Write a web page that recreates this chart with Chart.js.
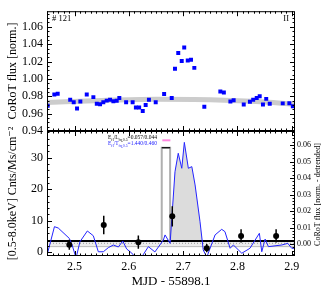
<!DOCTYPE html>
<html><head><meta charset="utf-8">
<script src="https://cdn.jsdelivr.net/npm/chart.js@4"></script>
<style>
html,body{margin:0;padding:0;background:#fff;}
#wrap{position:relative;width:327px;height:291px;}
canvas{position:absolute;left:0;top:0;}
</style></head><body>
<div id="wrap">
<canvas id="top" width="327" height="291" style="width:327px;height:291px"></canvas>
<canvas id="bot" width="327" height="291" style="width:327px;height:291px"></canvas>
</div>
<script>
// ---------- data ----------
const xRange = [2.4493, 2.906];
const xTicks = [2.5, 2.6, 2.7, 2.8, 2.9];

// top panel: CoRoT normalised flux
const topX = [2.4506,2.4628,2.469,2.492,2.4985,2.5046,2.5107,2.5225,2.5347,2.541,2.547,2.553,2.5593,2.5654,2.5715,2.5777,2.5825,2.595,2.607,2.613,2.619,2.6256,2.631,2.637,2.6495,2.665,2.679,2.685,2.691,2.6974,2.702,2.7085,2.7145,2.7206,2.739,2.7685,2.775,2.787,2.793,2.8116,2.823,2.829,2.8355,2.841,2.847,2.853,2.8595,2.8834,2.8956,2.902];
const topFlux = [0.969,0.982,0.983,0.976,0.973,0.966,0.974,0.982,0.979,0.9714,0.9707,0.973,0.975,0.976,0.9743,0.9748,0.978,0.973,0.973,0.967,0.967,0.963,0.970,0.976,0.973,0.9826,0.978,1.0116,1.0298,1.0206,1.0362,1.0212,1.022,1.0127,0.968,0.9855,0.9844,0.974,0.9755,0.9706,0.9737,0.976,0.978,0.980,0.9706,0.977,0.9714,0.9718,0.972,0.9684];
const trendX = [2.4493, 2.55, 2.65, 2.75, 2.85, 2.906];
const trendFlux = [0.9728, 0.9752, 0.9765, 0.976, 0.9735, 0.9708];
const topYRange = [0.94, 1.078];
const topYTicks = [0.94, 0.96, 0.98, 1.00, 1.02, 1.04, 1.06];

// bottom panel: X-ray rate (left axis)
const xrayX = [2.4904, 2.5538, 2.6175, 2.680, 2.7435, 2.8067, 2.8712];
const xrayRate = [2.4, 8.65, 3.2, 11.4, 1.3, 5.2, 5.2];
const xrayErr = [1.6, 2.9, 2.1, 3.2, 1.3, 2.1, 2.1];
const quiescentRate = 3.6;
const bgLevel = 2.85;
const bgLow = 1.8;
const flareBinX = [2.6606, 2.6606, 2.676, 2.676];
const flareBinRate = [3.6, 33.15, 33.15, 3.6];
const flareMarkX = [2.6617, 2.6765];
const flareMarkRate = 35.5;
const botYRange = [-1.17, 38.45];
const botYTicks = [0, 10, 20, 30];

// bottom panel: detrended CoRoT flux (right axis)
const detX = [2.4499,2.463,2.470,2.4904,2.4955,2.5028,2.510,2.5236,2.5346,2.5438,2.553,2.5623,2.5715,2.5807,2.5888,2.596,2.6054,2.613,2.6225,2.636,2.648,2.6636,2.6667,2.676,2.685,2.691,2.6975,2.7022,2.7096,2.716,2.722,2.7311,2.737,2.7435,2.7588,2.771,2.777,2.7865,2.7925,2.808,2.823,2.8404,2.8448,2.851,2.857,2.8817,2.8927,2.9,2.906];
const detFlux = [-0.0061,0.0105,0.0097,0.0034,-0.0005,-0.0085,0.0014,0.0079,0.005,-0.0047,-0.0047,-0.0022,-0.0006,-0.0018,0.0018,-0.003,-0.0055,-0.0085,-0.0085,-0.0016,-0.0048,0.0024,0.0055,0.0004,0.0438,0.055,0.0459,0.0616,0.0459,0.0469,0.0358,0.0135,-0.0036,-0.008,0.0055,0.0089,0.0075,-0.0026,-0.0006,-0.0056,-0.0026,0.0065,-0.0047,0.003,-0.0016,-0.0006,0.0004,-0.0026,-0.0026];
const flareRange = [2.676, 2.737];
const detBase = 0.0019;
const y2Range = [-0.00727, 0.0685];
const y2Ticks = [0, 0.01, 0.02, 0.03, 0.04, 0.05, 0.06];

// ---------- helpers ----------
const SERIF = "'Liberation Serif','DejaVu Serif',serif";
Chart.defaults.font.family = SERIF;
Chart.defaults.color = '#000';
const pts = (xs, ys) => xs.map((x, i) => ({x, y: ys[i]}));
const fixedTicks = arr => s => { s.ticks = arr.map(v => ({value: v})); };

function drawRich(ctx, x, y, segs, size, color) {
  ctx.fillStyle = color; ctx.textBaseline = 'alphabetic'; ctx.textAlign = 'left';
  for (const s of segs) {
    const fs = s.sub ? size * 0.7 : size;
    ctx.font = fs + 'px ' + SERIF;
    ctx.fillText(s.t, x, y + (s.sub ? size * 0.3 : 0));
    x += ctx.measureText(s.t).width;
  }
}

const deco = {
  id: 'deco',
  afterDraw(chart, args, o) {
    const {ctx, chartArea: a} = chart;
    ctx.save();
    ctx.strokeStyle = '#000'; ctx.lineWidth = 1;
    const tick = (scale, step, len, cb) => {
      const k0 = Math.ceil(scale.min / step - 1e-6), k1 = Math.floor(scale.max / step + 1e-6);
      for (let k = k0; k <= k1; k++) cb(Math.round(scale.getPixelForValue(k * step)) + 0.5, len);
    };
    ctx.beginPath();
    const xs = chart.scales.x, ys = chart.scales.y;
    [[o.xMajor, 5], [o.xMinor, 2.5]].forEach(([st, l]) => tick(xs, st, l, (p, L) => {
      ctx.moveTo(p, a.bottom); ctx.lineTo(p, a.bottom - L);
      ctx.moveTo(p, a.top); ctx.lineTo(p, a.top + L);
    }));
    [[o.yMajor, 5], [o.yMinor, 2.5]].forEach(([st, l]) => tick(ys, st, l, (p, L) => {
      ctx.moveTo(a.left, p); ctx.lineTo(a.left + L, p);
      if (o.mirror) { ctx.moveTo(a.right, p); ctx.lineTo(a.right - L, p); }
    }));
    if (chart.scales.y2) {
      [[o.y2Major, 5], [o.y2Minor, 2.5]].forEach(([st, l]) => tick(chart.scales.y2, st, l, (p, L) => {
        ctx.moveTo(a.right, p); ctx.lineTo(a.right - L, p);
      }));
    }
    ctx.stroke();
    ctx.strokeRect(a.left + 0.5, a.top + 0.5, a.right - a.left - 1, a.bottom - a.top - 1);
    if (o.draw) o.draw(ctx, a, chart);
    ctx.restore();
  }
};

// ---------- top chart ----------
new Chart(document.getElementById('top'), {
  type: 'line',
  data: { datasets: [
    { data: pts(topX, topFlux), showLine: false, pointStyle: 'rect', pointRadius: 2.8, pointBorderWidth: 0,
      pointBackgroundColor: '#0000ff', borderColor: '#0000ff', order: 0 },
    { data: pts(trendX, trendFlux), borderColor: '#cccccc', borderWidth: 5, pointRadius: 0, tension: 0.4, cubicInterpolationMode: 'monotone', order: 1 }
  ]},
  options: {
    responsive: false, animation: false, events: [],
    layout: { padding: { top: 8, bottom: 160, left: 0, right: 32 } },
    plugins: { legend: { display: false }, tooltip: { enabled: false },
      deco: { xMajor: 0.1, xMinor: 0.01, yMajor: 0.02, yMinor: 0.005, mirror: true,
        draw(ctx, a) {
          ctx.fillStyle = '#000'; ctx.font = '8.5px ' + SERIF; ctx.textBaseline = 'alphabetic';
          ctx.textAlign = 'left'; ctx.fillText('# 121', a.left + 5, a.top + 10);
          ctx.textAlign = 'right'; ctx.fillText('II', a.right - 6, a.top + 10);
        } } },
    scales: {
      x: { type: 'linear', min: xRange[0], max: xRange[1], display: false },
      y: { type: 'linear', min: topYRange[0], max: topYRange[1],
        afterFit(s) { s.width = 47; }, afterBuildTicks: fixedTicks(topYTicks),
        grid: { display: false, drawTicks: false }, border: { display: false },
        ticks: { padding: 4, color: '#000', font: { size: 12 }, callback: v => v.toFixed(2) },
        title: { display: true, text: 'CoRoT flux [norm.]', color: '#000', font: { size: 12 }, padding: { top: 6, bottom: 0 } } }
    }
  },
  plugins: [deco]
});

// ---------- bottom chart ----------
const errData = [];
xrayX.forEach((x, i) => { errData.push({x, y: xrayRate[i] - xrayErr[i]}, {x, y: xrayRate[i] + xrayErr[i]}, {x, y: null}); });
const flareData = pts(detX, detFlux).filter(p => p.x >= flareRange[0] && p.x <= flareRange[1]);

new Chart(document.getElementById('bot'), {
  type: 'line',
  data: { datasets: [
    { data: pts(xrayX, xrayRate), showLine: false, pointRadius: 3, pointBackgroundColor: '#000', pointBorderWidth: 0, yAxisID: 'y', order: 0 },
    { data: errData, borderColor: '#000', borderWidth: 1.5, pointRadius: 0, spanGaps: false, yAxisID: 'y', order: 1 },
    { data: pts(flareMarkX, [flareMarkRate, flareMarkRate]), borderColor: '#ff88e0', borderWidth: 2, pointRadius: 0, yAxisID: 'y', order: 2 },
    { data: pts(detX, detFlux), borderColor: '#2323ff', borderWidth: 1, pointRadius: 0, yAxisID: 'y2', order: 3 },
    { data: pts(flareBinX.slice(1, 3), flareBinRate.slice(1, 3)), borderColor: '#000', borderWidth: 1.2, pointRadius: 0, yAxisID: 'y', order: 4 },
    { data: pts(flareBinX, flareBinRate), borderColor: '#b0b0b0', borderWidth: 2, pointRadius: 0, yAxisID: 'y', order: 5 },
    { data: pts(xRange, [quiescentRate, quiescentRate]), borderColor: '#000', borderWidth: 2, pointRadius: 0, yAxisID: 'y', order: 6 },
    { data: flareData, borderColor: 'rgba(0,0,0,0)', borderWidth: 0, backgroundColor: '#dcdcdc', fill: { value: detBase }, pointRadius: 0, yAxisID: 'y2', order: 7 },
    { data: pts(xRange, [bgLevel, bgLevel]), borderColor: '#999', borderWidth: 1, borderDash: [1, 2], pointRadius: 0, yAxisID: 'y', order: 8 },
    { data: pts(xRange, [bgLow, bgLow]), borderColor: '#bbbbbb', borderWidth: 1, pointRadius: 0, yAxisID: 'y', order: 9 },
    { data: pts(xRange, [quiescentRate, quiescentRate]), borderColor: 'rgba(0,0,0,0)', backgroundColor: '#ececec', fill: { value: bgLow }, pointRadius: 0, yAxisID: 'y', order: 10 }
  ]},
  options: {
    responsive: false, animation: false, events: [],
    layout: { padding: { top: 131, bottom: 0, left: 0, right: 0 } },
    plugins: { legend: { display: false }, tooltip: { enabled: false },
      deco: { xMajor: 0.1, xMinor: 0.01, yMajor: 10, yMinor: 2, mirror: false, y2Major: 0.01, y2Minor: 0.002,
        draw(ctx, a) {
          drawRich(ctx, 108, a.top + 8, [{t:'E'},{t:'fl',sub:1},{t:'/L'},{t:'fq,0.5',sub:1},{t:'=0.057/0.044'}], 5.5, '#000');
          drawRich(ctx, 108, a.top + 14, [{t:'E'},{t:'fl',sub:1},{t:'/T'},{t:'fq,0.5',sub:1},{t:'=1.440/0.460'}], 5.5, '#2323ff');
          ctx.save();
          ctx.translate(318, (a.top + a.bottom) / 2 + 1);
          ctx.rotate(-Math.PI / 2);
          ctx.fillStyle = '#000'; ctx.font = '8px ' + SERIF; ctx.textAlign = 'center'; ctx.textBaseline = 'middle';
          ctx.fillText('CoRoT flux [norm. - detrended]', 0, 0);
          ctx.restore();
        } } },
    scales: {
      x: { type: 'linear', min: xRange[0], max: xRange[1], position: 'bottom',
        afterFit(s) { s.height = 35; }, afterBuildTicks: fixedTicks(xTicks),
        grid: { display: false, drawTicks: false }, border: { display: false },
        ticks: { padding: 4, color: '#000', font: { size: 12 }, maxRotation: 0, callback: v => v.toFixed(1) },
        title: { display: true, text: 'MJD - 55898.1', color: '#000', font: { size: 13 }, padding: { top: 0, bottom: 2 } } },
      y: { type: 'linear', position: 'left', min: botYRange[0], max: botYRange[1],
        afterFit(s) { s.width = 47; }, afterBuildTicks: fixedTicks(botYTicks),
        grid: { display: false, drawTicks: false }, border: { display: false },
        ticks: { padding: 4, color: '#000', font: { size: 12 } },
        title: { display: true, text: '[0.5-8.0keV] Cnts/Ms/cm\u207B\u00B2', color: '#000', font: { size: 12 }, padding: { top: 6, bottom: 0 } } },
      y2: { type: 'linear', position: 'right', min: y2Range[0], max: y2Range[1],
        afterFit(s) { s.width = 32; }, afterBuildTicks: fixedTicks(y2Ticks),
        grid: { display: false, drawTicks: false }, border: { display: false },
        ticks: { padding: 2, color: '#000', font: { size: 8 }, callback: v => v.toFixed(2) } }
    }
  },
  plugins: [deco]
});
</script>
</body></html>
